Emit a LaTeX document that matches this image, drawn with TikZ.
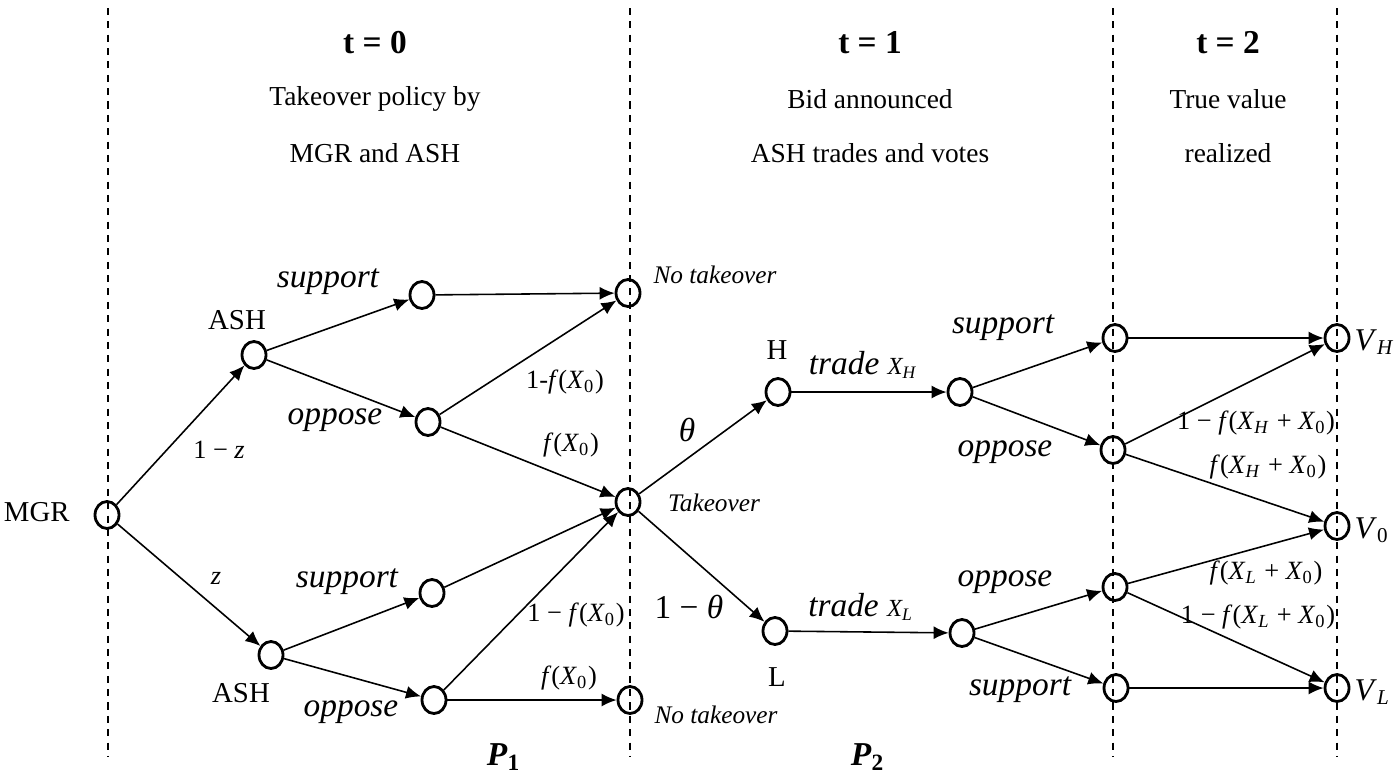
\documentclass[tikz,border=0pt]{standalone}
\usepackage{amsmath}
\usepackage{fontspec}
\setmainfont{Liberation Serif}
\usetikzlibrary{arrows.meta, shapes.geometric}

\newcommand{\Xs}[1]{\textit{X}\textsubscript{#1}}

\tikzset{
  dot/.style={ellipse, draw, line width=0.8pt, minimum width=2.4mm, minimum height=2.7mm, inner sep=0pt},
  branch/.style={-{Latex[length=1.5mm,width=1.3mm]}, line width=0.45pt},
  timeline/.style={dash pattern=on 2pt off 1.8pt, line width=0.5pt},
  head/.style={font=\fontsize{9.5}{11}\selectfont\bfseries},
  desc/.style={font=\fontsize{7.8}{9}\selectfont},
  who/.style={font=\fontsize{8.2}{9}\selectfont},
  act/.style={font=\fontsize{9.5}{11}\selectfont\itshape},
  prob/.style={font=\fontsize{7.5}{9}\selectfont},
  res/.style={font=\fontsize{7.2}{8}\selectfont\itshape},
  big/.style={font=\fontsize{9.5}{11}\selectfont},
  val/.style={font=\fontsize{9}{11}\selectfont, anchor=west, inner sep=0pt}
}

\begin{document}
\begin{tikzpicture}[x=0.1mm, y=-0.1mm]
  \useasboundingbox (0,0) rectangle (1394,773);

  % dates
  \foreach \xl in {108, 630, 1113, 1337}
    \draw[timeline] (\xl,8) -- (\xl,757);
  \node[head] (t0) at (375,43) {t = 0};
  \node[head] (t1) at (870,43) {t = 1};
  \node[head] (t2) at (1228,43) {t = 2};
  \node[desc] (d0a) at (375,99) {Takeover policy by};
  \node[desc] (d0b) at (375,153) {MGR and ASH};
  \node[desc] (d1a) at (870,99) {Bid announced};
  \node[desc] (d1b) at (870,153) {ASH trades and votes};
  \node[desc] (d2a) at (1228,99) {True value};
  \node[desc] (d2b) at (1228,153) {realized};

  % tree nodes
  \node[dot] (mgr) at (107,515) {};
  \node[dot] (ash1) at (254,355) {};
  \node[dot] (ash2) at (271,655) {};
  \node[dot] (s1) at (422,295) {};
  \node[dot] (o1) at (428,422) {};
  \node[dot] (s2) at (432,593) {};
  \node[dot] (o2) at (434,700) {};
  \node[dot] (nt1) at (628,293) {};
  \node[dot] (tk) at (628,502) {};
  \node[dot] (nt2) at (630,700) {};
  \node[dot] (hi) at (778,392) {};
  \node[dot] (lo) at (775,631) {};
  \node[dot] (th) at (960,392) {};
  \node[dot] (tl) at (962,633) {};
  \node[dot] (s3) at (1115,338) {};
  \node[dot] (o3) at (1113,450) {};
  \node[dot] (o4) at (1115,587) {};
  \node[dot] (s4) at (1116,688) {};
  \node[dot] (vh) at (1337,338) {};
  \node[dot] (v0) at (1337,526) {};
  \node[dot] (vl) at (1337,688) {};

  % t = 0
  \draw[branch] (mgr) -- (ash1);
  \draw[branch] (mgr) -- (ash2);
  \draw[branch] (ash1) -- (s1);
  \draw[branch] (ash1) -- (o1);
  \draw[branch] (ash2) -- (s2);
  \draw[branch] (ash2) -- (o2);
  \draw[branch] (s1) -- (nt1);
  \draw[branch] (o1) -- (nt1);
  \draw[branch] (o1) -- (tk);
  \draw[branch] (s2) -- (tk);
  \draw[branch] (o2) -- (tk);
  \draw[branch] (o2) -- (nt2);

  % t = 1
  \draw[branch] (tk) -- (hi);
  \draw[branch] (tk) -- (lo);
  \draw[branch] (hi) -- (th);
  \draw[branch] (lo) -- (tl);
  \draw[branch] (th) -- (s3);
  \draw[branch] (th) -- (o3);
  \draw[branch] (tl) -- (o4);
  \draw[branch] (tl) -- (s4);

  % t = 2
  \draw[branch] (s3) -- (vh);
  \draw[branch] (o3) -- (vh);
  \draw[branch] (o3) -- (v0);
  \draw[branch] (o4) -- (v0);
  \draw[branch] (o4) -- (vl);
  \draw[branch] (s4) -- (vl);

  % labels
  \node[who, anchor=east] (lmgr) at (82,512) {MGR};
  \node[who] (lash1) at (237,320) {ASH};
  \node[who] (lash2) at (241,693) {ASH};
  \node[act] (ls1) at (328,282) {support};
  \node[act] (lo1) at (335,420) {oppose};
  \node[act] (ls2) at (347,582) {support};
  \node[act] (lo2) at (351,712) {oppose};
  \node[prob] (p1z) at (219,450) {1 − \textit{z}};
  \node[prob] (pz) at (216,578) {\textit{z}};
  \node[prob] (pa) at (565,382) {1-\textit{f}(\Xs{0})};
  \node[prob] (pb) at (571,445) {\textit{f}(\Xs{0})};
  \node[prob] (pc) at (576,615) {1 − \textit{f}(\Xs{0})};
  \node[prob] (pd) at (569,678) {\textit{f}(\Xs{0})};
  \node[res] (lnt1) at (715,275) {No takeover};
  \node[res] (ltk) at (714,503) {Takeover};
  \node[res] (lnt2) at (716,715) {No takeover};
  \node[big] (ptheta) at (687,430) {\textit{θ}};
  \node[big] (pntheta) at (689,607) {1 − \textit{θ}};
  \node[who] (lhi) at (777,350) {H};
  \node[who] (llo) at (777,677) {L};
  \node[act] (ltrh) at (863,365) {trade {\fontsize{7}{8}\selectfont\Xs{\textit{H}}}};
  \node[act] (ltrl) at (861,607) {trade {\fontsize{7}{8}\selectfont\Xs{\textit{L}}}};
  \node[act] (ls3) at (1003,328) {support};
  \node[act] (lo3) at (1005,452) {oppose};
  \node[act] (lo4) at (1005,582) {oppose};
  \node[act] (ls4) at (1020,690) {support};
  \node[prob] (pe) at (1256,423) {1 − \textit{f}(\Xs{\textit{H}} + \Xs{0})};
  \node[prob] (pf) at (1268,467) {\textit{f}(\Xs{\textit{H}} + \Xs{0})};
  \node[prob] (pg) at (1266,573) {\textit{f}(\Xs{\textit{L}} + \Xs{0})};
  \node[prob] (ph) at (1258,617) {1 − \textit{f}(\Xs{\textit{L}} + \Xs{0})};
  \node[val] (lvh) at (1354,342) {\textit{V}\textsubscript{\textit{H}}};
  \node[val] (lv0) at (1354,530) {\textit{V}\textsubscript{0}};
  \node[val] (lvl) at (1354,692) {\textit{V}\textsubscript{\textit{L}}};
  \node[big] (lp1) at (504,757) {\textbf{\textit{P}}\textsubscript{\textbf{1}}};
  \node[big] (lp2) at (868,757) {\textbf{\textit{P}}\textsubscript{\textbf{2}}};
\end{tikzpicture}
\end{document}
